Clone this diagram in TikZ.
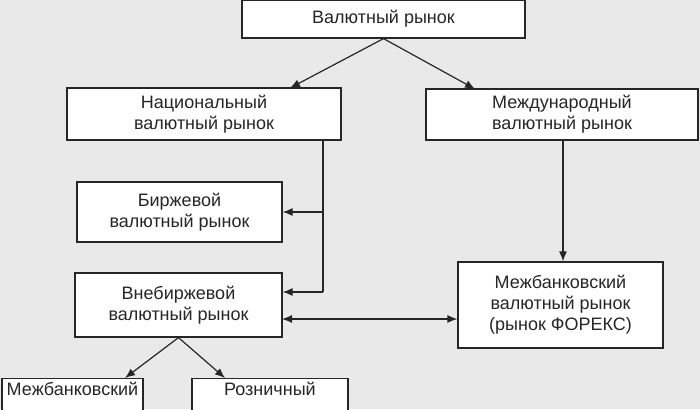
\documentclass[tikz,border=0pt]{standalone}
\usepackage{fontspec}
\setmainfont{Liberation Sans}
\usetikzlibrary{arrows.meta}
\definecolor{bg}{HTML}{E9E9E9}
\definecolor{ink}{HTML}{262626}
\tikzset{
  box/.style={draw=ink, line width=1.2pt, fill=white, text=ink, align=center,
    font=\fontsize{18}{21}\selectfont, inner sep=0pt},
  conn/.style={draw=ink, line width=1.2pt, -{Latex[length=10pt,width=8pt]}},
  dconn/.style={draw=ink, line width=1.2pt, {Latex[length=10pt,width=8pt]}-{Latex[length=10pt,width=8pt]}},
  plain/.style={draw=ink, line width=1.2pt}
}
\begin{document}
\begin{tikzpicture}[x=1pt,y=-1pt]
\fill[bg] (0,0) rectangle (700,409);
\useasboundingbox (0,0) rectangle (700,409);

\node[box, minimum width=283pt, minimum height=38pt] (top) at (383.5,19) {Валютный рынок};
\node[box, minimum width=274pt, minimum height=52pt] (nat) at (204,114) {Национальный\\валютный рынок};
\node[box, minimum width=272pt, minimum height=51pt] (intl) at (562,114.5) {Международный\\валютный рынок};
\node[box, minimum width=205pt, minimum height=60pt] (birzh) at (179.5,212) {Биржевой\\валютный рынок};
\node[box, minimum width=207pt, minimum height=64pt] (vne) at (178.5,305) {Внебиржевой\\валютный рынок};
\node[box, minimum width=205pt, minimum height=86pt] (forex) at (560.5,305) {Межбанковский\\валютный рынок\\(рынок ФОРЕКС)};
\node[box, minimum width=141pt, anchor=north, text height=13pt, text depth=24pt, inner ysep=4pt] (mezh) at (72.5,378) {Межбанковский};
\node[box, minimum width=156pt, anchor=north, text height=13pt, text depth=24pt, inner ysep=4pt] (rozn) at (270,378) {Розничный};

\coordinate (natIn) at (290,88);
\coordinate (intlIn) at (475,89);
\coordinate (natOut) at (323,140);
\coordinate (j1) at (323,212);
\coordinate (j2) at (323,292);
\coordinate (intlOut) at (563,140);
\coordinate (mezhIn) at (125,378);
\coordinate (roznIn) at (225,378);
\coordinate (dl) at (282,319);

\draw[conn] (top.south) -- (natIn);
\draw[conn] (top.south) -- (intlIn);
\draw[plain] (natOut) -- (j2);
\draw[conn] (j1) -- (birzh.east |- j1);
\draw[conn] (j2) -- (vne.east |- j2);
\draw[conn] (intlOut) -- (forex.north -| intlOut);
\draw[dconn] (dl) -- (forex.west |- dl);
\draw[conn] (vne.south) -- (mezhIn);
\draw[conn] (vne.south) -- (roznIn);
\end{tikzpicture}
\end{document}
